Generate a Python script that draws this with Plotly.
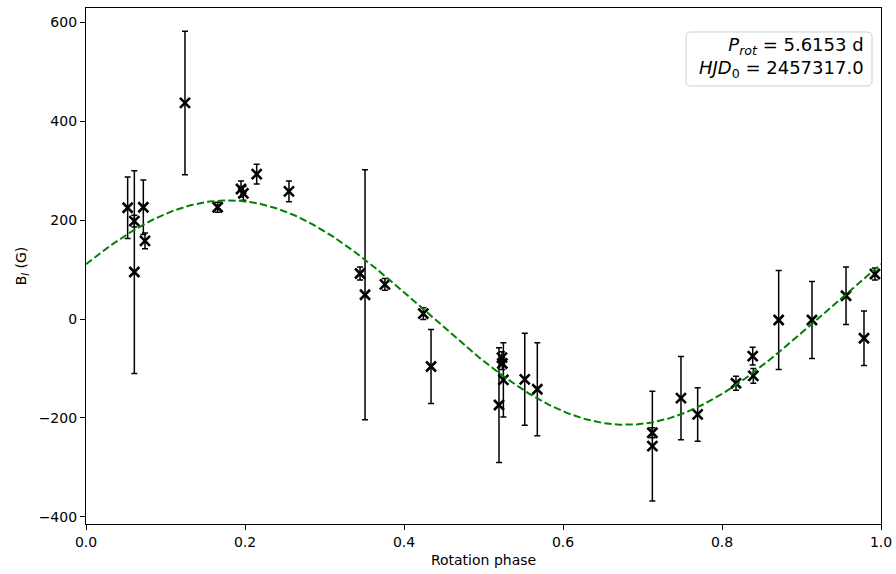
import numpy as np
import plotly.graph_objects as go

# Longitudinal field measurements folded on the rotation period
phase = [0.0524, 0.0608, 0.0608, 0.0721, 0.0742, 0.1245, 0.1656, 0.195, 0.198, 0.2147,
         0.2553, 0.3447, 0.351, 0.376, 0.4243, 0.434, 0.5195, 0.5232, 0.5237, 0.525,
         0.5519, 0.5677, 0.7124, 0.7124, 0.7484, 0.7694, 0.8176, 0.8386, 0.8394, 0.8713,
         0.9132, 0.956, 0.9786, 0.9924]
b_long = [225, 198, 95, 226, 158, 437, 226, 263, 254, 293,
          258, 92, 49, 70, 11, -96, -174, -78, -90, -123,
          -122, -142, -230, -257, -160, -193, -130, -75, -115, -2,
          -2, 47, -39, 91]
b_err = [62, 12, 205, 55, 16, 145, 10, 16, 14, 20,
         21, 13, 253, 12, 12, 75, 116, 12, 12, 75,
         93, 94, 10, 111, 84, 54, 14, 18, 15, 100,
         78, 58, 55, 12]

# Sinusoidal fit parameters
fit_offset = 13.0
fit_amplitude = 227.0
fit_phase_max = 0.179

x_ticks = [0.0, 0.2, 0.4, 0.6, 0.8, 1.0]
y_ticks = [-400, -200, 0, 200, 400, 600]

fit_phase = np.linspace(0.0, 1.0, 400)
fit_b = fit_offset + fit_amplitude * np.cos(2 * np.pi * (fit_phase - fit_phase_max))

FONT = "DejaVu Sans"

fig = go.Figure()
fig.add_trace(go.Scatter(
    x=phase, y=b_long, mode="markers",
    marker=dict(symbol="x-thin", size=10, color="black",
                line=dict(width=2.6, color="black")),
    error_y=dict(type="data", array=b_err, visible=True,
                 color="black", thickness=1.5, width=3),
    showlegend=False,
))
fig.add_trace(go.Scatter(
    x=fit_phase, y=fit_b, mode="lines",
    line=dict(color="#008000", width=2, dash="7.4px,3.2px"),
    showlegend=False,
))

# Rounded info box (paper coordinates)
bx0, bx1 = 0.7547, 0.9887
by0, by1 = 0.8488, 0.9535
rx, ry = 0.0063, 0.0097
box_path = (f"M {bx0+rx},{by1} L {bx1-rx},{by1} Q {bx1},{by1} {bx1},{by1-ry} "
            f"L {bx1},{by0+ry} Q {bx1},{by0} {bx1-rx},{by0} "
            f"L {bx0+rx},{by0} Q {bx0},{by0} {bx0},{by0+ry} "
            f"L {bx0},{by1-ry} Q {bx0},{by1} {bx0+rx},{by1} Z")
fig.add_shape(type="path", path=box_path, xref="paper", yref="paper",
              line=dict(color="#d0d0d0", width=1), fillcolor="rgba(255,255,255,0.8)")

fig.add_annotation(
    xref="paper", yref="paper", x=0.9811, y=0.905,
    xanchor="right", yanchor="middle", align="right", showarrow=False,
    text="<i>P</i><sub><i>rot</i></sub> = 5.6153 d<br><i>HJD</i><sub>0</sub> = 2457317.0",
    font=dict(family=FONT, size=18, color="black"),
)

axis_common = dict(
    showline=True, linecolor="black", linewidth=1.2, mirror=True,
    ticks="outside", ticklen=5, tickwidth=1.2, tickcolor="black",
    showgrid=False, zeroline=False, automargin=False,
    tickfont=dict(family=FONT, size=14, color="black"),
)

fig.update_xaxes(
    range=[0, 1], tickvals=x_ticks, tickformat=".1f",
    title=dict(text="Rotation phase", font=dict(family=FONT, size=14, color="black"),
               standoff=6),
    **axis_common,
)
fig.update_yaxes(
    range=[-414.6, 629], tickvals=y_ticks,
    title=dict(text="B<sub><i>l</i></sub> (G)", font=dict(family=FONT, size=14, color="black"),
               standoff=8),
    **axis_common,
)

fig.update_layout(
    width=896, height=574,
    margin=dict(l=86, r=15, t=8, b=50),
    plot_bgcolor="white", paper_bgcolor="white",
    font=dict(family=FONT, color="black"),
)

fig.write_html("out.html")
